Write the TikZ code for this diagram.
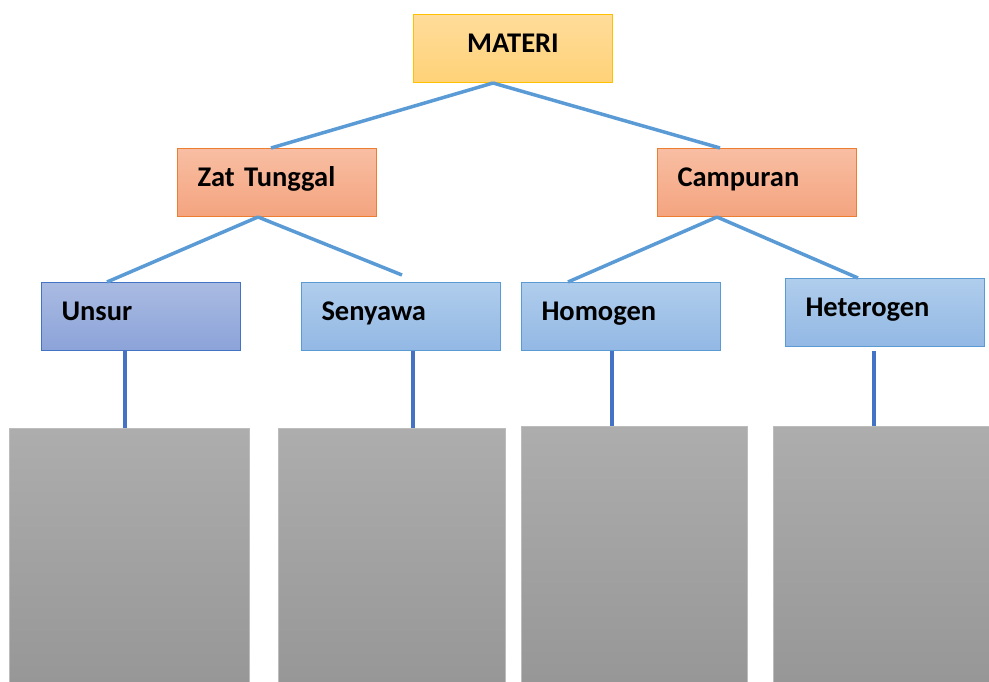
\documentclass[tikz,border=0pt]{standalone}
\usepackage{fontspec}
\setmainfont{Carlito}
\usetikzlibrary{calc}
\definecolor{linkblue}{HTML}{5B9BD5}
\definecolor{darkblue}{HTML}{4472C4}
\definecolor{goldline}{HTML}{FFC000}
\definecolor{goldtop}{HTML}{FFDC9A}
\definecolor{goldbot}{HTML}{FFD278}
\definecolor{orangeline}{HTML}{ED7D31}
\definecolor{orangetop}{HTML}{F8BEA3}
\definecolor{orangebot}{HTML}{F4A47F}
\definecolor{unsurtop}{HTML}{AABBE2}
\definecolor{unsurbot}{HTML}{8CA3D9}
\definecolor{bluetop}{HTML}{B0CDEC}
\definecolor{bluebot}{HTML}{92B8E4}
\definecolor{grayline}{HTML}{BCBCBC}
\definecolor{graytop}{HTML}{ADADAD}
\definecolor{graybot}{HTML}{939393}
\tikzset{
  box/.style={draw, line width=1pt, minimum width=199pt, minimum height=68pt, anchor=north west,
    inner xsep=20pt, inner ysep=0pt, text width=159pt, text height=20pt, text depth=11.6pt,
    align=left, font=\bfseries\fontsize{28.5}{32}\selectfont},
  goldbox/.style={box, draw=goldline, top color=goldtop, bottom color=goldbot, align=center},
  orangebox/.style={box, draw=orangeline, top color=orangetop, bottom color=orangebot},
  unsurbox/.style={box, draw=darkblue, top color=unsurtop, bottom color=unsurbot},
  bluebox/.style={box, draw=linkblue, top color=bluetop, bottom color=bluebot},
  graybox/.style={draw=grayline, line width=1pt, top color=graytop, bottom color=graybot, anchor=north west, minimum height=300pt, inner sep=0pt},
  link/.style={draw=linkblue, line width=3.5pt},
  stem/.style={draw=darkblue, line width=4pt},
}
\begin{document}
\begin{tikzpicture}[x=1pt,y=-1pt]
\useasboundingbox (0,0) rectangle (989,682);
\clip (0,0) rectangle (989,682);
% boxes
\node[goldbox, inner xsep=0pt, text width=199pt] (materi) at (413,14) {MATERI};
\node[orangebox] (zat) at (177,148) {Zat Tunggal};
\node[orangebox] (camp) at (657,148) {Campuran};
\node[unsurbox] (unsur) at (41,282) {Unsur};
\node[bluebox] (seny) at (301,282) {Senyawa};
\node[bluebox] (homo) at (521,282) {Homogen};
\node[bluebox] (hetero) at (785,278) {Heterogen};
% gray boxes
\node[graybox, minimum width=240pt] (g1) at (9,428) {};
\node[graybox, minimum width=227pt] (g2) at (278,428) {};
\node[graybox, minimum width=226pt] (g3) at (521,426) {};
\node[graybox, minimum width=230pt] (g4) at (773,426) {};
% connector points
\coordinate (mb) at ($(materi.south west)+(80,0)$);
\coordinate (zt) at ($(zat.north west)+(94,0)$);
\coordinate (ct) at ($(camp.north west)+(63,0)$);
\coordinate (zb) at ($(zat.south west)+(81,0)$);
\coordinate (cb) at ($(camp.south west)+(60,0)$);
\coordinate (ut) at ($(unsur.north west)+(66,0)$);
\coordinate (st) at ($(seny.north west)+(101,-7)$);
\coordinate (ht) at ($(homo.north west)+(47,0)$);
\coordinate (het) at ($(hetero.north west)+(73,0)$);
\coordinate (us) at ($(unsur.south west)+(84,0)$);
\coordinate (ss) at ($(seny.south west)+(112,0)$);
\coordinate (hs) at ($(homo.south west)+(91,0)$);
\coordinate (hts) at ($(hetero.south west)+(89,4)$);
% connectors
\draw[link] (mb) -- (zt);
\draw[link] (mb) -- (ct);
\draw[link] (zb) -- (ut);
\draw[link] (zb) -- (st);
\draw[link] (cb) -- (ht);
\draw[link] (cb) -- (het);
\draw[stem] (us) -- (us |- g1.north);
\draw[stem] (ss) -- (ss |- g2.north);
\draw[stem] (hs) -- (hs |- g3.north);
\draw[stem] (hts) -- (hts |- g4.north);
\end{tikzpicture}
\end{document}
